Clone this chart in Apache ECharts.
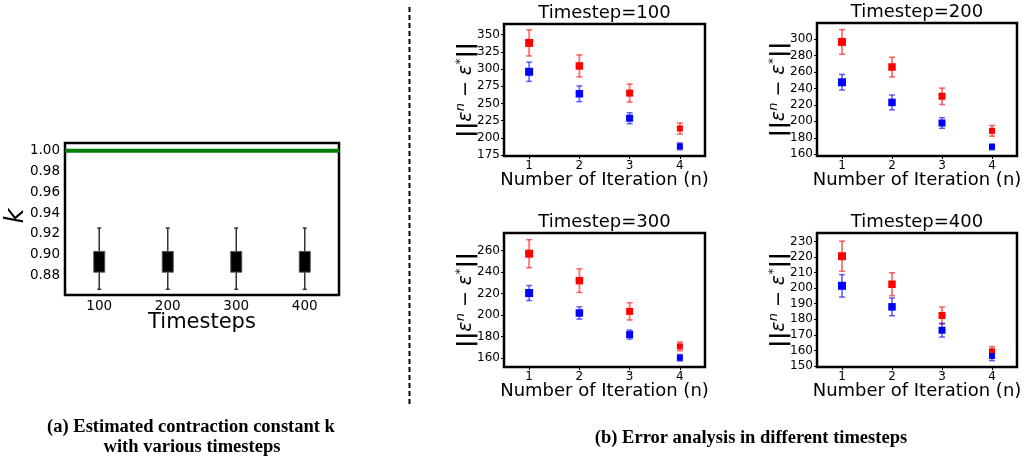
<!DOCTYPE html>
<html>
<head>
<meta charset="utf-8">
<script src="https://cdn.jsdelivr.net/npm/echarts@6/dist/echarts.min.js"></script>
<style>
  html, body { margin: 0; padding: 0; background: #fff; }
  #chart { width: 1026px; height: 457px; }
</style>
</head>
<body>
<div id="chart"></div>
<script>
// ─── (a) contraction constant k per timestep ───
const timesteps = [100, 200, 300, 400];
const kWhiskerLow = [0.8665, 0.8665, 0.8665, 0.8665];
const kBoxLow = [0.8830, 0.8830, 0.8830, 0.8830];
const kBoxHigh = [0.9030, 0.9030, 0.9030, 0.9030];
const kWhiskerHigh = [0.9255, 0.9255, 0.9255, 0.9255];
const kBound = 1.0;
const kTicks = [0.88, 0.90, 0.92, 0.94, 0.96, 0.98, 1.00];

// ─── (b) error per iteration, one panel per timestep ───
const iterations = [1, 2, 3, 4];

const red100 = [338, 304.5, 265, 213.5];
const red100Err = [19, 16, 13, 8];
const blue100 = [296, 264, 228.5, 187.5];
const blue100Err = [14, 11.5, 8, 5];
const ticks100 = [175, 200, 225, 250, 275, 300, 325, 350];

const red200 = [296.5, 266, 230.5, 188.5];
const red200Err = [15, 12, 10, 6.5];
const blue200 = [247.5, 223, 198, 169];
const blue200Err = [9.5, 9, 6.5, 3.5];
const ticks200 = [160, 180, 200, 220, 240, 260, 280, 300];

const red300 = [257, 232, 203.5, 171];
const red300Err = [13, 11, 8, 4];
const blue300 = [220.5, 202, 182, 160.5];
const blue300Err = [7, 5.7, 4.2, 3];
const ticks300 = [160, 180, 200, 220, 240, 260];

const red400 = [220.5, 202.5, 182.5, 159.5];
const red400Err = [9.7, 7.4, 5.4, 3];
const blue400 = [201.5, 188, 173, 156.5];
const blue400Err = [7.2, 5.7, 4.4, 3];
const ticks400 = [150, 160, 170, 180, 190, 200, 210, 220, 230];

const FONT = 'DejaVu Sans';
const RED = '#ff0000';
const BLUE = '#0000ff';
const markerSizes = [8, 7.5, 7, 6];

// panel layout: grid box + y range
const panels = [
  { title: 'Timestep=100', left: 504, top: 24, width: 201, height: 132, min: 173.5, max: 365.5, ticks: ticks100,
    red: red100, redErr: red100Err, blue: blue100, blueErr: blue100Err, labelX: 466 },
  { title: 'Timestep=200', left: 817, top: 23, width: 200, height: 133, min: 157.9, max: 319.5, ticks: ticks200,
    red: red200, redErr: red200Err, blue: blue200, blueErr: blue200Err, labelX: 779 },
  { title: 'Timestep=300', left: 504, top: 233, width: 201, height: 134, min: 151.9, max: 276.2, ticks: ticks300,
    red: red300, redErr: red300Err, blue: blue300, blueErr: blue300Err, labelX: 466 },
  { title: 'Timestep=400', left: 817, top: 233, width: 200, height: 134, min: 149.4, max: 235.4, ticks: ticks400,
    red: red400, redErr: red400Err, blue: blue400, blueErr: blue400Err, labelX: 779 },
];

function errorBarSeries(idx, vals, errs, color) {
  return {
    type: 'custom',
    xAxisIndex: idx, yAxisIndex: idx,
    z: 2,
    encode: { x: 0, y: [1, 2] },
    data: iterations.map((n, i) => [n, vals[i] - errs[i], vals[i] + errs[i]]),
    renderItem(params, api) {
      const top = api.coord([api.value(0), api.value(2)]);
      const bot = api.coord([api.value(0), api.value(1)]);
      const st = { stroke: color, lineWidth: 2, opacity: 0.5 };
      const cs = { stroke: color, lineWidth: 1.5, opacity: 0.6 };
      const c = 3;
      return {
        type: 'group',
        children: [
          { type: 'line', shape: { x1: top[0], y1: top[1], x2: bot[0], y2: bot[1] }, style: st },
          { type: 'line', shape: { x1: top[0] - c, y1: top[1], x2: top[0] + c, y2: top[1] }, style: cs },
          { type: 'line', shape: { x1: bot[0] - c, y1: bot[1], x2: bot[0] + c, y2: bot[1] }, style: cs },
        ],
      };
    },
  };
}

function markerSeries(idx, vals, color) {
  return {
    type: 'scatter',
    xAxisIndex: idx, yAxisIndex: idx,
    z: 3,
    symbol: 'rect',
    symbolSize: (v, p) => markerSizes[p.dataIndex],
    itemStyle: { color: color, opacity: 1 },
    data: iterations.map((n, i) => [n, vals[i]]),
  };
}

const grids = [{ left: 65, top: 143, width: 274, height: 152 }];
const xAxes = [{
  type: 'value', gridIndex: 0, min: 50, max: 450,
  axisLine: { show: false }, splitLine: { show: false },
  axisTick: { show: false },
  axisLabel: { customValues: timesteps, color: '#000', fontFamily: FONT, fontSize: 13.5, margin: 4 },
}];
const yAxes = [{
  type: 'value', gridIndex: 0, min: 0.861, max: 1.0075,
  axisLine: { show: false }, splitLine: { show: false },
  axisTick: { show: false },
  axisLabel: { customValues: kTicks, formatter: (v) => v.toFixed(2), color: '#000', fontFamily: FONT, fontSize: 13.5, margin: 5 },
}];

const series = [
  {
    type: 'custom',
    xAxisIndex: 0, yAxisIndex: 0,
    encode: { x: 0, y: [1, 4] },
    data: timesteps.map((t, i) => [t, kWhiskerLow[i], kBoxLow[i], kBoxHigh[i], kWhiskerHigh[i]]),
    renderItem(params, api) {
      const x = api.value(0);
      const wl = api.coord([x, api.value(1)]);
      const q1 = api.coord([x, api.value(2)]);
      const q3 = api.coord([x, api.value(3)]);
      const wh = api.coord([x, api.value(4)]);
      const hw = 5.5, c = 2;
      const ws = { stroke: '#333', lineWidth: 1.5 };
      return {
        type: 'group',
        children: [
          { type: 'line', shape: { x1: wl[0], y1: wl[1], x2: q1[0], y2: q1[1] }, style: ws },
          { type: 'line', shape: { x1: q3[0], y1: q3[1], x2: wh[0], y2: wh[1] }, style: ws },
          { type: 'line', shape: { x1: wl[0] - c, y1: wl[1], x2: wl[0] + c, y2: wl[1] }, style: ws },
          { type: 'line', shape: { x1: wh[0] - c, y1: wh[1], x2: wh[0] + c, y2: wh[1] }, style: ws },
          { type: 'rect', shape: { x: q3[0] - hw, y: q3[1], width: hw * 2, height: q1[1] - q3[1] }, style: { fill: '#000', stroke: '#555', lineWidth: 1 } },
        ],
      };
    },
  },
  {
    type: 'line',
    xAxisIndex: 0, yAxisIndex: 0,
    symbol: 'none',
    lineStyle: { color: '#008000', width: 4 },
    data: [[50, kBound], [450, kBound]],
  },
];

const graphics = [
  { type: 'text', x: 16, y: 216, rotation: Math.PI / 2,
    style: { text: 'k', font: 'italic 26px "DejaVu Sans"', fill: '#000', align: 'center', verticalAlign: 'middle' } },
  { type: 'text', x: 202, y: 323,
    style: { text: 'Timesteps', font: '21px "DejaVu Sans"', fill: '#000', align: 'center', verticalAlign: 'middle' } },
  { type: 'line', shape: { x1: 409.5, y1: 7, x2: 409.5, y2: 404 },
    style: { stroke: '#000', lineWidth: 2, lineDash: [5, 3] } },
  { type: 'text', x: 191, y: 427,
    style: { text: '(a) Estimated contraction constant k', font: 'bold 18.5px "Liberation Serif"', fill: '#000', align: 'center', verticalAlign: 'middle' } },
  { type: 'text', x: 192, y: 447,
    style: { text: 'with various timesteps', font: 'bold 18.5px "Liberation Serif"', fill: '#000', align: 'center', verticalAlign: 'middle' } },
  { type: 'text', x: 751, y: 438,
    style: { text: '(b) Error analysis in different timesteps', font: 'bold 18.5px "Liberation Serif"', fill: '#000', align: 'center', verticalAlign: 'middle' } },
];

panels.forEach((p, k) => {
  const idx = k + 1;
  grids.push({ left: p.left, top: p.top, width: p.width, height: p.height });
  xAxes.push({
    type: 'value', gridIndex: idx, min: 0.5, max: 4.5,
    axisLine: { show: false }, splitLine: { show: false },
    axisTick: { show: true, customValues: iterations, length: 3, lineStyle: { color: '#000' } },
    axisLabel: { customValues: iterations, color: '#000', fontFamily: FONT, fontSize: 12, margin: 4 },
  });
  yAxes.push({
    type: 'value', gridIndex: idx, min: p.min, max: p.max,
    axisLine: { show: false }, splitLine: { show: false },
    axisTick: { show: true, customValues: p.ticks, length: 3, lineStyle: { color: '#000' } },
    axisLabel: { customValues: p.ticks, color: '#000', fontFamily: FONT, fontSize: 12, margin: 4 },
  });
  series.push(errorBarSeries(idx, p.red, p.redErr, RED));
  series.push(errorBarSeries(idx, p.blue, p.blueErr, BLUE));
  series.push(markerSeries(idx, p.red, RED));
  series.push(markerSeries(idx, p.blue, BLUE));

  const cx = p.left + p.width / 2;
  const cy = p.top + p.height / 2;
  graphics.push({ type: 'text', x: cx, y: p.top - 11,
    style: { text: p.title, font: '18px "DejaVu Sans"', fill: '#000', align: 'center', verticalAlign: 'middle' } });
  graphics.push({ type: 'text', x: cx, y: p.top + p.height + 24,
    style: { text: 'Number of Iteration (n)', font: '18px "DejaVu Sans"', fill: '#000', align: 'center', verticalAlign: 'middle' } });
  graphics.push({ type: 'text', x: p.labelX, y: cy, rotation: Math.PI / 2,
    style: {
      text: '{b|||}{e|ε}{s|n}{m| − }{e|ε}{s|*}{b|||}',
      align: 'center', verticalAlign: 'middle',
      rich: {
        b: { fontFamily: FONT, fontSize: 22, fontWeight: 'bold', fill: '#000', lineHeight: 24 },
        e: { fontFamily: FONT, fontSize: 19, fontStyle: 'italic', fill: '#000', lineHeight: 24 },
        s: { fontFamily: FONT, fontSize: 13, fontStyle: 'italic', fill: '#000', lineHeight: 24, verticalAlign: 'top' },
        m: { fontFamily: FONT, fontSize: 19, fill: '#000', lineHeight: 24 },
      },
    } });
});

grids.forEach((g) => { g.show = true; g.borderColor = '#000'; g.borderWidth = 2.5; g.backgroundColor = 'transparent'; });

const chart = echarts.init(document.getElementById('chart'), null, { renderer: 'canvas' });
chart.setOption({
  backgroundColor: '#fff',
  animation: false,
  grid: grids,
  xAxis: xAxes,
  yAxis: yAxes,
  series: series,
  graphic: graphics,
});
</script>
</body>
</html>
